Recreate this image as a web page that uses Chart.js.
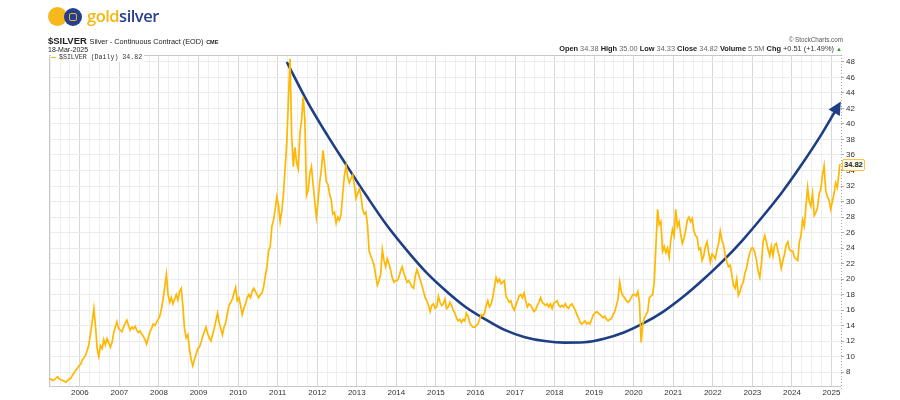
<!DOCTYPE html>
<html><head><meta charset="utf-8">
<script src="https://cdn.jsdelivr.net/npm/chart.js@4.4.1/dist/chart.umd.min.js"></script>
<style>
html,body{margin:0;padding:0;background:#fff;}
#wrap{position:relative;width:900px;height:400px;overflow:hidden;font-family:"Liberation Sans",Arial,sans-serif;color:#222;}
canvas{position:absolute;left:0;top:0;}
.t{position:absolute;white-space:nowrap;line-height:1;}
.g{color:#666;font-weight:normal;}
.b{font-weight:bold;color:#222;}
</style></head><body>
<div id="wrap">
<canvas id="c" width="900" height="400"></canvas>
<div class="t" style="left:48px;top:7px;width:19px;height:19px;border-radius:50%;background:#f7b81c;"></div>
<div class="t" style="left:64px;top:8px;width:18px;height:18px;border-radius:50%;background:#243f8f;"></div>
<div class="t" style="left:69px;top:13px;width:6px;height:6px;border:1.6px solid #f7b81c;border-radius:2px;"></div>
<div class="t" style="left:87px;top:8px;font-family:'Open Sans',sans-serif;font-weight:600;font-size:16.5px;letter-spacing:-0.5px;"><span style="color:#f5b70f">gold</span><span style="color:#2a3f8f">silver</span></div>
<div class="t" style="left:48px;top:36px;font-size:9.5px;font-weight:bold;">$SILVER <span style="font-weight:normal;font-size:7.3px;">Silver - Continuous Contract (EOD)</span> <span style="font-size:5.5px;">CME</span></div>
<div class="t" style="left:48px;top:46px;font-size:7px;">18-Mar-2025</div>
<div class="t" style="right:57px;top:37px;font-size:6.3px;color:#555;">&#169; StockCharts.com</div>
<div class="t" style="right:58px;top:45px;font-size:7.4px;"><span class="b">Open</span> <span class="g">34.38</span> <span class="b">High</span> <span class="g">35.00</span> <span class="b">Low</span> <span class="g">34.33</span> <span class="b">Close</span> <span class="g">34.82</span> <span class="b">Volume</span> <span class="g">5.5M</span> <span class="b">Chg</span> <span style="color:#333">+0.51 (+1.49%)</span> <span style="color:#2a9a2a;font-size:6px;">&#9650;</span></div>
<div class="t" style="left:51px;top:55px;font-family:'Liberation Mono',monospace;font-size:6.6px;color:#333;background:#fff;padding:0 2px 0 0;"><span style="display:inline-block;width:5px;height:1.5px;background:#ffb700;vertical-align:middle;margin-right:3px;"></span>$SILVER (Daily) 34.82</div>
<div class="t" style="left:842px;top:159px;font-size:7.5px;font-weight:bold;border:1px solid #f5c24a;background:#fffbe8;padding:1px 1px;border-radius:2px;">34.82</div>
</div>
<script>
// Semi-monthly silver closes (half-month slots, 24 per year)
const firstSlot2005 = 5;
const p2005 = [7.0,7.1,6.9,7.0,7.2,7.4,7.1,7.0,6.9,6.8,6.7,6.9,7.1,7.2,7.6,7.9,8.2,8.5,8.8];
const p2006 = [9.0,9.6,9.8,10.2,10.8,11.6,13.0,14.5,16.2,13.9,11.0,10.0,11.4,11.0,12.2,11.5,12.3,11.8,11.2,11.8,13.0,13.8,14.5,13.6];
const p2007 = [13.4,13.2,13.8,14.3,14.7,14.0,13.4,13.8,13.6,13.9,13.4,13.1,13.3,12.9,12.6,12.2,11.6,12.4,13.2,13.6,14.2,14.0,14.4,14.8];
const p2008 = [15.2,16.2,17.4,19.0,20.6,18.0,17.0,17.6,16.8,17.4,18.0,17.3,18.4,18.8,16.5,13.6,12.4,12.8,11.0,9.6,8.8,9.6,10.3,11.0];
const p2009 = [11.2,11.8,12.6,13.2,13.8,13.0,12.4,12.0,12.8,13.6,14.6,15.6,14.4,13.6,12.8,13.8,14.4,15.6,16.6,17.0,17.4,18.2,18.9,17.2];
const p2010 = [17.6,16.6,15.4,16.2,16.8,17.6,18.0,17.6,18.4,18.8,18.4,18.0,17.6,18.0,18.2,19.0,20.4,21.6,23.6,24.2,26.8,27.6,29.0,30.6];
const p2011 = [29.5,27.4,28.8,31.0,34.2,37.5,43.0,48.4,38.5,34.5,37.0,35.0,34.2,38.8,40.5,43.5,40.5,30.8,31.5,33.6,34.5,32.2,30.0,28.0];
const p2012 = [30.0,32.5,34.0,36.6,34.8,32.6,32.2,31.0,30.2,28.4,28.6,27.2,28.0,27.6,28.4,31.0,33.4,34.6,33.2,32.4,33.0,33.4,32.2,30.4];
const p2013 = [31.0,31.6,30.8,29.0,28.4,28.6,27.0,23.6,23.0,22.4,21.8,20.4,19.2,19.8,20.6,23.8,22.4,21.6,22.6,22.0,21.2,20.2,19.6,19.8];
const p2014 = [19.8,20.2,21.0,21.6,20.8,20.2,19.6,19.8,19.4,19.0,18.8,20.4,21.2,20.6,19.9,19.2,18.4,17.6,17.2,16.6,15.8,16.6,16.8,16.2];
const p2015 = [16.4,17.8,17.0,16.6,16.8,17.4,16.2,16.4,17.0,16.6,16.0,15.6,15.0,14.6,14.8,14.4,14.8,14.6,15.6,15.2,14.4,14.0,13.8,13.8];
const p2016 = [14.0,14.2,14.8,15.4,15.2,15.6,16.6,17.2,16.4,16.8,17.6,19.0,20.2,19.6,20.0,19.4,19.6,19.8,17.8,17.4,17.0,17.2,16.4,16.0];
const p2017 = [16.6,17.2,17.8,18.0,17.6,18.2,17.2,16.4,16.8,16.6,16.2,15.8,16.0,16.6,17.0,17.6,17.0,16.8,16.6,16.8,16.4,16.8,16.2,16.9];
const p2018 = [17.0,17.2,16.6,16.4,16.6,16.4,16.8,16.4,16.2,16.6,16.8,16.4,16.0,15.4,15.0,14.4,14.2,14.4,14.6,14.2,14.4,14.2,14.8,15.4];
const p2019 = [15.6,15.8,15.6,15.4,15.2,15.0,15.2,14.8,14.6,14.8,14.9,15.4,15.8,16.6,17.4,19.6,18.4,17.8,17.6,17.2,17.0,17.2,17.6,18.0];
const p2020 = [18.0,17.8,18.4,17.0,11.8,14.2,15.0,15.4,15.8,17.6,17.8,18.0,19.8,24.4,29.0,27.0,27.4,23.6,24.2,23.4,24.0,22.8,25.0,26.4];
const p2021 = [25.6,29.0,26.8,27.4,25.8,24.6,25.2,26.2,27.6,28.0,27.4,27.8,26.2,25.6,25.4,23.8,24.0,22.4,23.0,24.2,24.8,23.4,22.2,23.2];
const p2022 = [23.0,22.6,23.8,24.6,26.2,25.0,24.4,23.0,22.2,21.6,21.8,20.6,19.2,18.8,20.0,17.9,18.4,19.2,19.6,20.8,21.4,22.6,23.4,24.0];
const p2023 = [24.0,23.4,22.4,21.0,20.2,22.0,24.8,25.6,24.8,23.8,23.0,24.2,23.0,24.4,24.6,23.6,22.8,21.4,22.4,23.2,24.4,24.8,23.8,23.6];
const p2024 = [23.6,22.8,22.6,22.4,24.8,25.6,27.6,26.8,29.4,31.8,30.0,29.4,31.0,28.2,28.6,29.2,31.0,31.6,33.4,34.6,31.4,30.6,30.2,29.0];
const p2025 = [30.0,31.0,32.4,31.8,33.6];
const lastDate = 2025.21, lastClose = 34.82;

// Hand-drawn blue arc (decimal year, price)
const arcYears  = [2011.23,2011.75,2012.25,2012.75,2013.25,2013.75,2014.25,2014.75,2015.25,2015.75,2016.25,2016.75,2017.25,2017.75,2018.25,2018.75,2019.25,2019.75,2020.25,2020.75,2021.25,2021.75,2022.25,2022.75,2023.25,2023.75,2024.25,2024.75,2025.12];
const arcPrices = [48.0,42.9,38.6,34.6,30.7,27.0,23.8,20.9,18.5,16.4,14.8,13.4,12.5,12.0,11.8,11.85,12.3,13.1,14.3,15.8,17.7,19.9,22.3,25.0,28.0,31.2,34.8,38.7,41.9];

const yearLabels = [2006,2007,2008,2009,2010,2011,2012,2013,2014,2015,2016,2017,2018,2019,2020,2021,2022,2023,2024,2025];
const priceTicks = [8,10,12,14,16,18,20,22,24,26,28,30,32,34,36,38,40,42,44,46,48];

const yearSeries = [[2005,p2005,firstSlot2005],[2006,p2006,0],[2007,p2007,0],[2008,p2008,0],[2009,p2009,0],[2010,p2010,0],[2011,p2011,0],[2012,p2012,0],[2013,p2013,0],[2014,p2014,0],[2015,p2015,0],[2016,p2016,0],[2017,p2017,0],[2018,p2018,0],[2019,p2019,0],[2020,p2020,0],[2021,p2021,0],[2022,p2022,0],[2023,p2023,0],[2024,p2024,0],[2025,p2025,0]];
const silverPoints = [];
yearSeries.forEach(([yr, arr, off]) => arr.forEach((v, i) => silverPoints.push({x: yr + (off + i + 0.5) / 24, y: v})));
silverPoints.push({x: lastDate, y: lastClose});
const arcPoints = arcYears.map((x, i) => ({x, y: arcPrices[i]}));

const frame = {
  id: 'frame',
  beforeDatasetsDraw(chart) {
    const a = chart.chartArea, c = chart.ctx;
    c.save(); c.strokeStyle = '#c8c8c8'; c.lineWidth = 1;
    c.beginPath(); c.moveTo(a.left + 0.5, a.bottom + 0.5); c.lineTo(a.left + 0.5, a.top + 0.5); c.lineTo(a.right, a.top + 0.5); c.stroke();
    c.beginPath(); c.moveTo(a.left, a.bottom + 0.5); c.lineTo(a.right, a.bottom + 0.5); c.stroke();
    c.setLineDash([1, 2]); c.strokeStyle = '#aaa';
    c.beginPath(); c.moveTo(a.right + 0.5, a.top); c.lineTo(a.right + 0.5, a.bottom + 3); c.stroke();
    c.restore();
  },
  afterDatasetsDraw(chart) {
    const meta = chart.getDatasetMeta(1), pts = meta.data, n = pts.length;
    const p1 = pts[n - 2], p2 = pts[n - 1];
    const ang = Math.atan2(p2.y - p1.y, p2.x - p1.x);
    const c = chart.ctx, L = 13, W = 6.5;
    const tipX = p2.x + Math.cos(ang) * 9, tipY = p2.y + Math.sin(ang) * 9;
    const bx = tipX - Math.cos(ang) * L, by = tipY - Math.sin(ang) * L;
    c.save(); c.fillStyle = '#1e3f85';
    c.beginPath(); c.moveTo(tipX, tipY);
    c.lineTo(bx + Math.sin(ang) * W, by - Math.cos(ang) * W);
    c.lineTo(bx - Math.sin(ang) * W, by + Math.cos(ang) * W);
    c.closePath(); c.fill(); c.restore();
  }
};

new Chart(document.getElementById('c'), {
  type: 'line',
  data: { datasets: [
    { data: silverPoints, borderColor: '#ffb700', borderWidth: 1.7, pointRadius: 0, tension: 0, fill: false },
    { data: arcPoints, borderColor: '#1e3f85', borderWidth: 2.6, pointRadius: 0, tension: 0.4, cubicInterpolationMode: 'monotone', fill: false, clip: false }
  ]},
  options: {
    responsive: false, animation: false, devicePixelRatio: 1,
    layout: { padding: { left: 49, top: 55, right: 0, bottom: 0 } },
    plugins: { legend: { display: false }, tooltip: { enabled: false } },
    scales: {
      x: {
        type: 'linear', min: 2005.22, max: 2025.24,
        afterFit(s) { s.height = 14; },
        border: { display: false },
        grid: { color: (ctx) => Number.isInteger(ctx.tick && ctx.tick.value) ? '#d8d8d8' : '#efefef', drawTicks: false, lineWidth: 1 },
        ticks: { stepSize: 0.25, includeBounds: false, autoSkip: false, maxRotation: 0, padding: 2,
          font: { family: 'Liberation Sans', size: 8 }, color: '#333',
          callback: (v) => yearLabels.includes(v) ? String(v) : '' }
      },
      y: {
        type: 'linear', position: 'right', min: 6.2, max: 48.9,
        afterFit(s) { s.width = 59; },
        border: { display: false },
        grid: { color: '#ebebeb', tickColor: '#aaa', tickLength: 3 },
        ticks: { stepSize: 2, includeBounds: false, padding: 2, font: { family: 'Liberation Sans', size: 8 }, color: '#333',
          callback: (v) => priceTicks.includes(v) ? String(v) : '' }
      }
    }
  },
  plugins: [frame]
});
</script>
</body></html>
